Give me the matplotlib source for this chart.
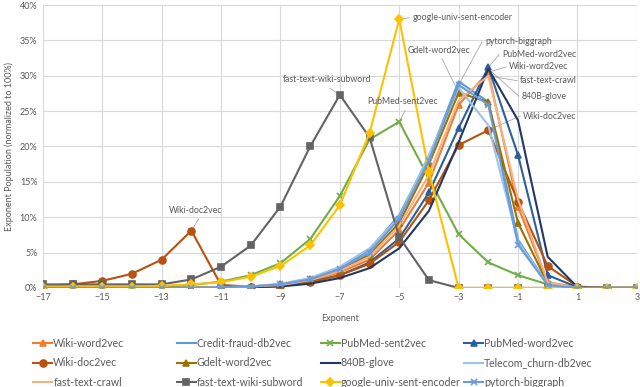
import numpy as np
import matplotlib.pyplot as plt
from matplotlib.lines import Line2D

plt.rcParams['font.family'] = ['Lato', 'DejaVu Sans']

# exponent bins (x axis)
exponents = list(range(-17, 4))

# series names, in the order Excel draws them
names = ['Wiki-word2vec', 'Credit-fraud-db2vec', 'PubMed-sent2vec',
         'PubMed-word2vec', 'Wiki-doc2vec', 'Gdelt-word2vec', '840B-glove',
         'Telecom_churn-db2vec', 'fast-text-crawl', 'fast-text-wiki-subword',
         'google-univ-sent-encoder', 'pytorch-biggraph']

# values, percent of exponent population
wiki_word2vec = [0, 0, 0, 0, 0, 0, 0.1, 0.2, 0.4, 1.0, 2.2, 4.0, 8.2, 14.9,
                 25.9, 30.5, 11.5, 0.8, 0.1, 0, 0]
credit_fraud = [0, 0, 0, 0, 0, 0, 0.1, 0.2, 0.5, 1.3, 2.8, 5.4, 10.3, 18.5,
                29.2, 26.3, 6.8, 0.5, 0, 0, 0]
pubmed_sent2vec = [0.2, 0.2, 0.2, 0.2, 0.2, 0.4, 0.9, 1.8, 3.5, 6.9, 13.0,
                   21.0, 23.5, 15.5, 7.6, 3.6, 1.8, 0.5, 0, 0, 0]
pubmed_word2vec = [0, 0, 0, 0, 0, 0, 0.1, 0.1, 0.3, 0.8, 1.8, 3.6, 7.0, 13.5,
                   22.6, 31.2, 18.8, 1.8, 0.1, 0, 0]
wiki_doc2vec = [0.3, 0.5, 1.0, 2.0, 4.0, 8.1, 0.4, 0.2, 0.3, 0.8, 1.8, 3.4,
                6.5, 12.4, 20.2, 22.3, 12.2, 3.1, 0.2, 0, 0]
gdelt_word2vec = [0, 0, 0, 0, 0, 0, 0.1, 0.2, 0.5, 1.2, 2.6, 4.7, 9.2, 17.5,
                  27.6, 26.3, 9.2, 0.6, 0, 0, 0]
glove_840b = [0, 0, 0, 0, 0, 0, 0, 0.1, 0.2, 0.6, 1.4, 2.8, 5.6, 10.9, 20.6,
              31.0, 23.7, 4.4, 0.1, 0, 0]
telecom_churn = [0, 0, 0, 0, 0, 0, 0.1, 0.2, 0.6, 1.4, 3.0, 5.6, 10.0, 18.8,
                 28.3, 23.0, 6.5, 0.5, 0, 0, 0]
fasttext_crawl = [0, 0, 0, 0, 0, 0, 0.1, 0.2, 0.4, 1.1, 2.4, 4.4, 8.8, 16.0,
                  26.5, 30.0, 12.5, 0.8, 0, 0, 0]
fasttext_subword = [0.5, 0.5, 0.5, 0.5, 0.5, 1.2, 3.0, 6.0, 11.5, 20.0, 27.3,
                    21.3, 7.2, 1.1, 0, 0, 0, 0, 0, 0, 0]
google_use = [0.2, 0.2, 0.2, 0.2, 0.3, 0.5, 0.8, 1.6, 3.1, 6.0, 11.7, 21.9,
              38.0, 16.4, 0, 0, 0, 0, 0, 0, 0]
pytorch_biggraph = [0, 0, 0, 0, 0, 0, 0.1, 0.2, 0.5, 1.2, 2.7, 5.0, 9.8,
                    18.0, 28.7, 25.9, 6.1, 0.4, 0, 0, 0]

series = [wiki_word2vec, credit_fraud, pubmed_sent2vec, pubmed_word2vec,
          wiki_doc2vec, gdelt_word2vec, glove_840b, telecom_churn,
          fasttext_crawl, fasttext_subword, google_use, pytorch_biggraph]

colors = ['#ED7D31', '#5B9BD5', '#70AD47', '#2C5F9E', '#B8520E', '#997300',
          '#203864', '#9DC3E6', '#F4B183', '#636363', '#FFC000', '#6A9BDB']
markers = ['^', None, 'x', '^', 'o', '^', None, None, None, 's', 'D', 'x']
msizes = [4, 0, 4.5, 4, 5, 4, 0, 0, 0, 4.5, 4, 4.5]

fig = plt.figure(figsize=(6.4, 3.87), dpi=100)
ax = fig.add_axes([0.067, 0.256, 0.928, 0.731])

handles = []
for i in range(len(series)):
    h, = ax.plot(exponents, series[i], color=colors[i], lw=1.5,
                 marker=markers[i], markersize=msizes[i], mew=1.2,
                 label=names[i], zorder=3 + i)
    handles.append(h)

ax.set_xlim(-17, 3)
ax.set_ylim(0, 40)
ax.set_xticks(range(-17, 4, 2))
ax.set_yticks(range(0, 41, 5))
ax.set_yticklabels([str(v) + '%' for v in range(0, 41, 5)])
ax.grid(True, color='#D9D9D9', lw=0.8)
ax.set_axisbelow(True)
for s in ax.spines.values():
    s.set_visible(False)
ax.tick_params(length=0, labelsize=6.5, colors='#595959', pad=4)
ax.set_xlabel('Exponent', fontsize=6.5, color='#595959', labelpad=8)
ax.set_ylabel('Exponent Population (normalized to 100%)', fontsize=6.5,
              color='#595959', labelpad=4)

# data labels with leader lines: (text, x, y, ha, point x, point y)
labels = [
    ('Wiki-doc2vec', -11.86, 10.9, 'center', -12, 8.1),
    ('fast-text-wiki-subword', -7.42, 29.4, 'center', -7, 27.3),
    ('PubMed-sent2vec', -4.9, 26.3, 'center', -5, 23.5),
    ('google-univ-sent-encoder', -4.56, 38.2, 'left', -5, 38.0),
    ('Gdelt-word2vec', -3.66, 33.6, 'center', -3, 27.6),
    ('pytorch-biggraph', -2.11, 34.8, 'left', -3, 28.7),
    ('PubMed-word2vec', -1.54, 33.0, 'left', -2, 31.2),
    ('Wiki-word2vec', -1.30, 31.25, 'left', -2, 30.5),
    ('fast-text-crawl', -0.93, 29.3, 'left', -2, 30.0),
    ('840B-glove', -0.87, 27.1, 'left', -2, 31.0),
    ('Wiki-doc2vec', -0.83, 24.3, 'left', -2, 22.3),
]
for txt, tx, ty, ha, px, py in labels:
    ax.text(tx, ty, txt, fontsize=6.3, color='#595959', ha=ha, va='center',
            zorder=20)
    if ha == 'left':
        lx, ly = tx - 0.1, ty
    else:
        lx, ly = tx + 0.1, ty - 1.2
    ax.plot([lx, px], [ly, py], color='#A6A6A6', lw=0.6, zorder=2)

# legend: Excel lays it out row by row, 4 equal columns
col_x = [0.052, 0.276, 0.501, 0.725]
for c in range(4):
    hs = [handles[c + 4 * r] for r in range(3)]
    fig.legend(handles=hs, labels=[h.get_label() for h in hs],
               loc='upper left', bbox_to_anchor=(col_x[c], 0.127),
               frameon=False, fontsize=7.6, handlelength=1.8,
               handletextpad=0.1, labelspacing=0.8, borderaxespad=0,
               borderpad=0, labelcolor='#595959')

fig.savefig('out.png', dpi=100)
